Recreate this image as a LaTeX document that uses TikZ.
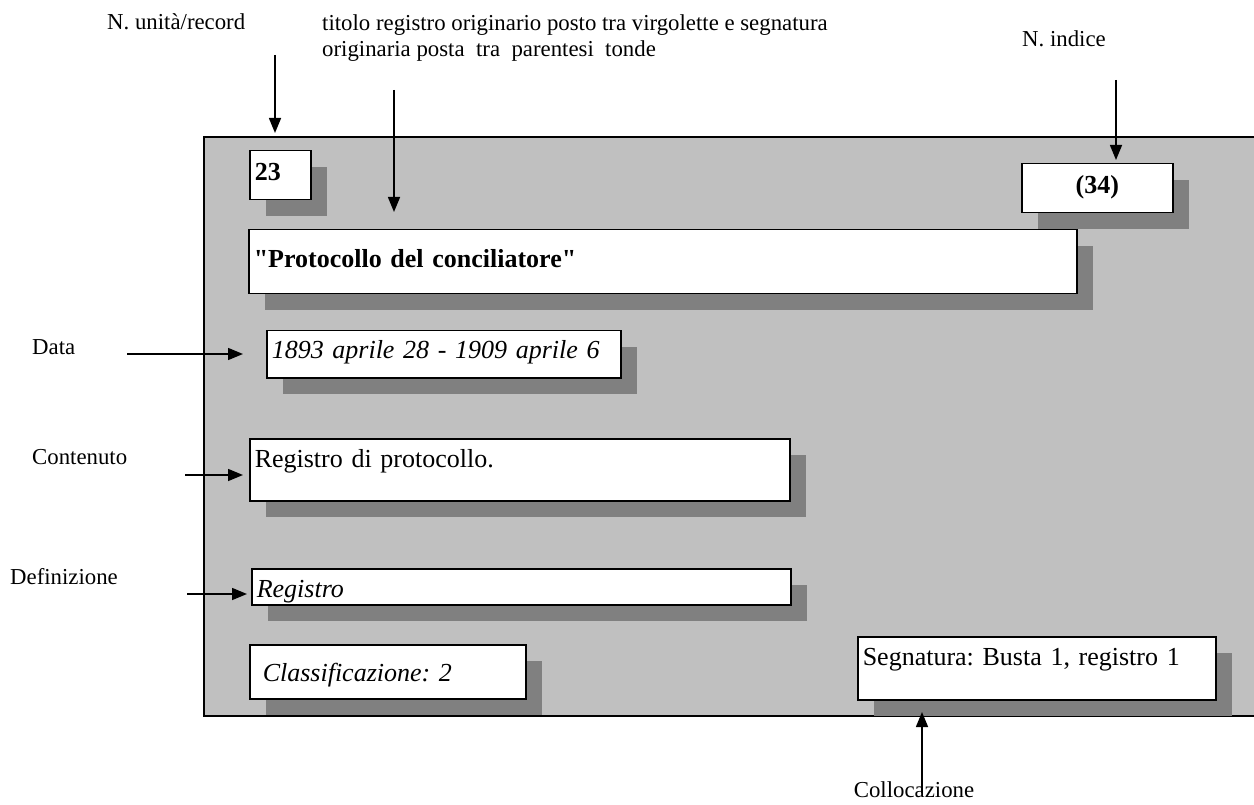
\documentclass[tikz,border=0pt]{standalone}
\usepackage{fontspec}
\setmainfont{Liberation Serif}[Ligatures=TeXOff]
\usepackage{tikz}
\usetikzlibrary{arrows.meta,shadows}
\usepackage{xcolor}
\definecolor{panelgray}{HTML}{C0C0C0}
\definecolor{shadowgray}{HTML}{808080}
\newcommand{\lblfont}{\fontsize{22.8}{26}\selectfont}
\newcommand{\boxfont}{\fontsize{26}{30}\selectfont}
\frenchspacing

\begin{document}
\begin{tikzpicture}[x=1pt,y=-1pt]
\tikzstyle{field} = [
	draw=black,
	fill=white,
	line width=1.5pt,
	inner xsep=5pt, %text inset
	inner ysep=4pt,
	anchor=north west,
	align=left,
	font=\boxfont,
	drop shadow={shadow xshift=16pt,shadow yshift=-16pt,fill=shadowgray,opacity=1}
];
\tikzstyle{caption} = [inner sep=0pt, font=\lblfont];
\tikzstyle{pointer} = [line width=1.5pt, -{Triangle[length=15pt,width=12pt]}];

\useasboundingbox (0,0) rectangle (1254,805);

% panel
\fill[panelgray] (204,137) rectangle (1254,716);
\draw[line width=1.5pt] (1254,137) -- (204,137) -- (204,716) -- (1254,716);

\begin{scope}
	\node[field,text width=51pt,text height=26pt,text depth=15pt](Num) at (249,150) {\textbf{23}};
	\node[field,align=center,text width=141pt,text height=26pt,text depth=15pt](Idx) at (1021,163) {\textbf{(34)}};
	\node[field,text width=818pt,text height=34pt,text depth=22pt](Tit) at (248,229) {\textbf{"Protocollo del conciliatore"}};
	\node[field,text width=344pt,text height=24pt,text depth=15pt](Dat) at (266,330) {\textit{1893 aprile 28 - 1909 aprile 6}};
	\node[field,text width=530pt,text height=25pt,text depth=29pt](Cont) at (249,438) {Registro di protocollo.};
	\node[field,text width=529pt,text height=25pt,text depth=3pt](Def) at (251,568) {\textit{Registro}};
	\node[field,text width=266pt,text height=33pt,text depth=13pt](Cls) at (249,644) {\hspace*{8pt}\textit{Classificazione: 2}};
	\node[field,text width=348pt,text height=25pt,text depth=30pt](Seg) at (857,636) {Segnatura: Busta 1, registro 1};
\end{scope}

% captions
\node[caption,anchor=base west](lblNum) at (107,30) {N. unità/record};
\node[caption,anchor=north west,align=left](lblTit) at (322,14) {titolo registro originario posto tra virgolette e segnatura\\originaria posta\ \ tra\ \ parentesi\ \ tonde};
\node[caption,anchor=base](lblIdx) at (1064,47) {N. indice};
\node[caption,anchor=base west](lblDat) at (32,354) {Data};
\node[caption,anchor=base west](lblCont) at (32,464) {Contenuto};
\node[caption,anchor=base west](lblDef) at (10,584) {Definizione};
\node[caption,anchor=base](lblCol) at (914,797) {Collocazione};

% arrows
\coordinate (numFrom) at (275,55);   \coordinate (numTo) at (275,133);
\coordinate (titFrom) at (394,90);   \coordinate (titTo) at (394,212);
\coordinate (idxFrom) at (1116,80);  \coordinate (idxTo) at (1116,160);
\coordinate (datFrom) at (127,354);  \coordinate (datTo) at (243,354);
\coordinate (contFrom) at (185,475); \coordinate (contTo) at (243,475);
\coordinate (defFrom) at (187,594);  \coordinate (defTo) at (247,594);
\coordinate (colFrom) at (922,793);  \coordinate (colTo) at (922,712);

\draw [pointer] (numFrom) to[] (numTo);
\draw [pointer] (titFrom) to[] (titTo);
\draw [pointer] (idxFrom) to[] (idxTo);
\draw [pointer] (datFrom) to[] (datTo);
\draw [pointer] (contFrom) to[] (contTo);
\draw [pointer] (defFrom) to[] (defTo);
\draw [pointer] (colFrom) to[] (colTo);

\end{tikzpicture}
\end{document}
